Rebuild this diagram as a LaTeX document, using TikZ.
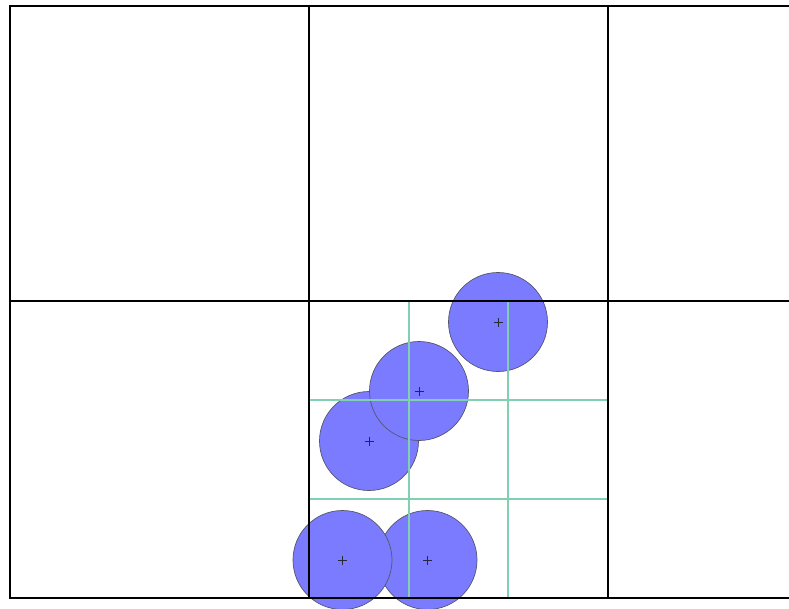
\documentclass[tikz,border=0pt]{standalone}
\begin{document}
\begin{tikzpicture}[x=1pt,y=-1pt,
  cellline/.style={line width=2pt,draw=black},
  subline/.style={line width=1.2pt,draw={rgb,255:red,130;green,208;blue,178}},
  disk/.style={circle,inner sep=0pt,minimum size=99pt,fill={rgb,255:red,123;green,123;blue,255},draw={rgb,255:red,85;green,85;blue,110},line width=0.7pt},
  plusmark/.style={line width=0.6pt,draw={rgb,255:red,40;green,40;blue,60}}]
\useasboundingbox (0,0) rectangle (789,608);
% disks
\node[disk] (c3) at (369,441) {};
\node[disk] (c2) at (419,391) {};
\node[disk] (c1) at (498,322) {};
\node[disk] (c5) at (427.5,560) {};
\node[disk] (c4) at (342.5,560) {};
% sub grid
\draw[subline] (409,300) -- (409,597);
\draw[subline] (508,300) -- (508,597);
\draw[subline] (309,400) -- (608,400);
\draw[subline] (309,499) -- (608,499);
% main grid
\draw[cellline] (10,6) -- (789,6);
\draw[cellline] (10,300.5) -- (789,300.5);
\draw[cellline] (10,597.5) -- (789,597.5);
\draw[cellline] (10,5) -- (10,598.5);
\draw[cellline] (309,5) -- (309,598.5);
\draw[cellline] (608,5) -- (608,598.5);
% centre marks
\foreach \c in {c1,c2,c3,c4,c5}{
  \draw[plusmark] (\c.center) +(-4.5,0) -- +(4.5,0);
  \draw[plusmark] (\c.center) +(0,-4.5) -- +(0,4.5);
}
\end{tikzpicture}
\end{document}
